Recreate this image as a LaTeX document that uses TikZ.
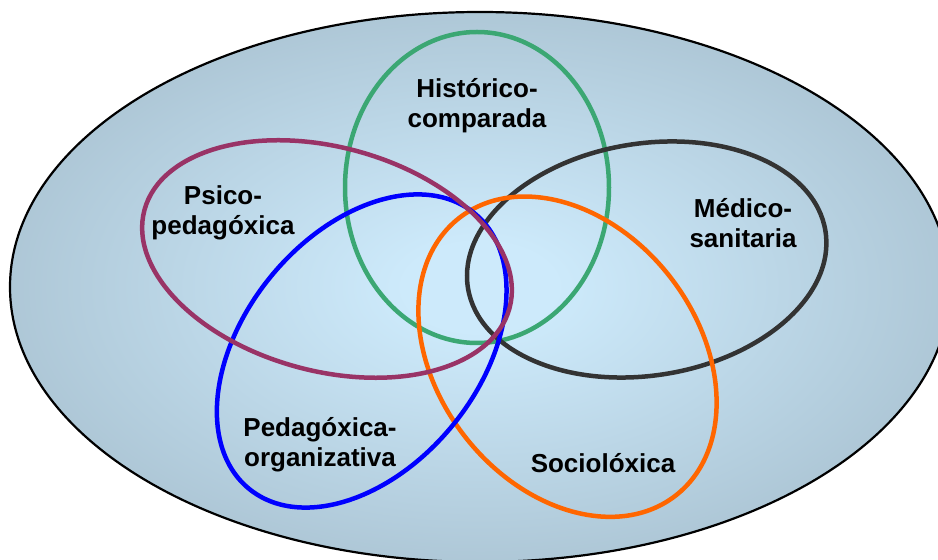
\documentclass[tikz,border=0pt]{standalone}
\usepackage{fontspec}
\setmainfont{Liberation Sans}
\usepackage{tikz}

\definecolor{histgreen}{HTML}{3BA773}
\definecolor{psicoplum}{HTML}{993366}
\definecolor{orgblue}{HTML}{0000FF}
\definecolor{socorange}{HTML}{FF6600}
\definecolor{medgray}{HTML}{333333}
\definecolor{bowlcentre}{HTML}{CDEAFB}
\definecolor{bowlrim}{HTML}{92A8B6}
\pgfdeclareradialshading{bowl}{\pgfpoint{0bp}{0bp}}{color(0bp)=(bowlcentre); color(4bp)=(bowlcentre); color(44bp)=(bowlrim); color(50bp)=(bowlrim)}

\begin{document}
\begin{tikzpicture}[x=1pt,y=1pt,
  ring/.style={line width=4.5pt},
  field/.style={font=\fontsize{26}{30}\selectfont\bfseries, align=center, anchor=base}]
\useasboundingbox (0,0) rectangle (938,560);
\clip (0,0) rectangle (938,560);
\path[shade, shading=bowl, draw=black, line width=2.2pt] (480,273) ellipse [x radius=470, y radius=275];
\draw[ring, histgreen] (477,372.5) ellipse [x radius=132, y radius=155.5];
\draw[ring, medgray, rotate around={9:(646.7,300.5)}] (646.7,300.5) ellipse [x radius=181, y radius=116];
\draw[ring, socorange, rotate around={-52:(567.5,203.3)}] (567.5,203.3) ellipse [x radius=176, y radius=130];
\draw[ring, orgblue, rotate around={50.7:(361.7,209)}] (361.7,209) ellipse [x radius=178, y radius=117.5];
\draw[ring, psicoplum, rotate around={-15:(327,301)}] (327,301) ellipse [x radius=189, y radius=112];
% base anchor sits on the last line
\node[field] (hist) at (477,432) {Histórico-\\comparada};
\node[field] (psico) at (223,325) {Psico-\\pedagóxica};
\node[field] (medico) at (743,312) {Médico-\\sanitaria};
\node[field] (pedorg) at (320,93.3) {Pedagóxica-\\organizativa};
\node[field] (socio) at (603,87) {Sociolóxica};
\end{tikzpicture}
\end{document}
